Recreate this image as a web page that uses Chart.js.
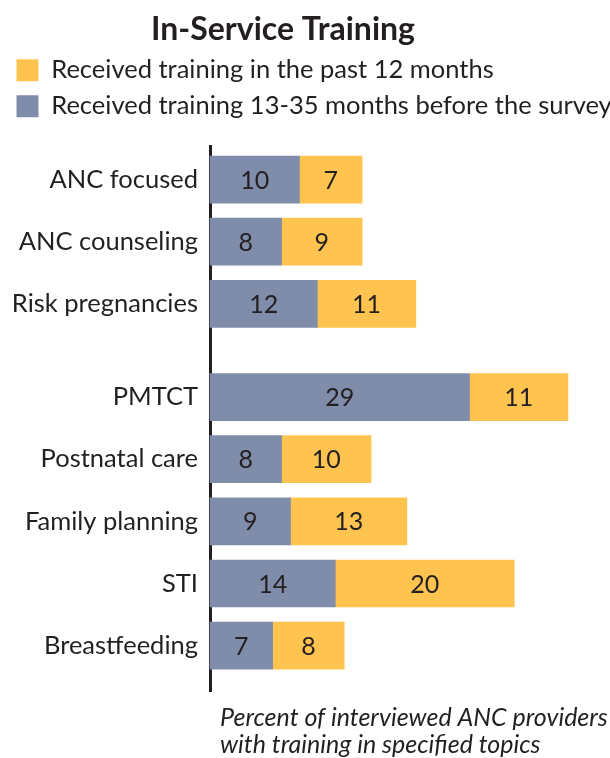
<!DOCTYPE html>
<html>
<head>
<meta charset="utf-8">
<script src="https://cdn.jsdelivr.net/npm/chart.js@4/dist/chart.umd.min.js"></script>
<style>
  html, body { margin: 0; padding: 0; background: #fff; }
  #wrap { width: 610px; height: 758px; }
</style>
</head>
<body>
<div id="wrap"><canvas id="chart" width="610" height="758"></canvas></div>
<script>
// -------------------------------------------------------------
// Data (percent of interviewed ANC providers)
// -------------------------------------------------------------
const categories = ['ANC focused', 'ANC counseling', 'Risk pregnancies', 'PMTCT',
  'Postnatal care', 'Family planning', 'STI', 'Breastfeeding']
// slot on the row axis: the first three topics are set apart from the rest
const rowSlots = [0, 1, 2, 3.5, 4.5, 5.5, 6.5, 7.5]
const older = [10, 8, 12, 29, 8, 9, 14, 7]     // 13-35 months before the survey
const recent = [7, 9, 11, 11, 10, 13, 20, 8]   // past 12 months

const titleText = 'In-Service Training'
const seriesNames = ['Received training 13-35 months before the survey', 'Received training in the past 12 months']
const captionLines = ['Percent of interviewed ANC providers', 'with training in specified topics']

const INK = '#231f20'
const GRAY = '#808daa'
const GOLD = '#ffc44f'
const FONT = 'Lato, "Open Sans", sans-serif'

const el = id => document.getElementById(id)

// numbers inside each bar segment
const segmentLabels = {
  id: 'segmentLabels',
  afterDatasetsDraw(chart) {
    const ctx = chart.ctx
    ctx.save()
    ctx.font = `25px ${FONT}`
    ctx.fillStyle = INK
    ctx.textAlign = 'center'
    ctx.textBaseline = 'middle'
    chart.data.datasets.forEach((ds, di) => {
      chart.getDatasetMeta(di).data.forEach((bar, i) => {
        ctx.fillText(String(ds.data[i].x), (bar.x + bar.base) / 2, bar.y + 1)
      })
    })
    ctx.restore()
  }
}

// title (sits a little left of centre) and the italic note under the axis
const headings = {
  id: 'headings',
  afterDraw(chart) {
    const { ctx, chartArea } = chart
    ctx.save()
    ctx.fillStyle = INK
    ctx.textBaseline = 'middle'
    ctx.textAlign = 'center'
    ctx.font = `bold 32px ${FONT}`
    ctx.fillText(titleText, 283, 30)
    ctx.textAlign = 'left'
    ctx.font = `italic 25px ${FONT}`
    captionLines.forEach((line, i) => ctx.fillText(line, chartArea.left + 10, chartArea.bottom + 27 + i * 27))
    ctx.restore()
  }
}

// a bit of air between the legend and the top of the axis line
const legendGap = {
  id: 'legendGap',
  beforeLayout(chart) {
    const lg = chart.legend
    if (!lg || lg._gapped) return
    const fit = lg.fit
    lg.fit = function () { fit.call(this); this.height += 17 }
    lg._gapped = true
  }
}

new Chart(el('chart'), {
  type: 'bar',
  data: {
    datasets: [
      { label: seriesNames[0], data: older.map((v, i) => ({ x: v, y: rowSlots[i] })), backgroundColor: GRAY },
      { label: seriesNames[1], data: recent.map((v, i) => ({ x: v, y: rowSlots[i] })), backgroundColor: GOLD }
    ].map(ds => ({ ...ds, stack: 'all', barThickness: 47, borderWidth: 0, clip: false }))
  },
  options: {
    indexAxis: 'y',
    responsive: false,
    animation: false,
    layout: { padding: { top: 47, left: 6, right: 0, bottom: 67 } },
    plugins: {
      title: { display: false },
      legend: {
        display: true,
        position: 'top',
        align: 'start',
        reverse: true,
        labels: {
          color: INK,
          font: { family: FONT, size: 25.5 },
          boxWidth: 22,
          boxHeight: 22,
          padding: 10.5
        }
      },
      tooltip: { enabled: false }
    },
    scales: {
      x: {
        display: false,
        min: 0,
        max: 44.7
      },
      y: {
        type: 'linear',
        reverse: true,
        offset: false,
        min: -0.54,
        max: 8.23,
        grid: { display: false, drawTicks: false },
        border: { display: true, color: INK, width: 3 },
        afterBuildTicks: scale => { scale.ticks = rowSlots.map(v => ({ value: v })) },
        afterFit: scale => { scale.width = 204 },
        ticks: {
          autoSkip: false,
          padding: 12,
          color: INK,
          font: { family: FONT, size: 25.5 },
          callback: v => categories[rowSlots.indexOf(v)]
        }
      }
    }
  },
  plugins: [segmentLabels, headings, legendGap]
})
</script>
</body>
</html>
